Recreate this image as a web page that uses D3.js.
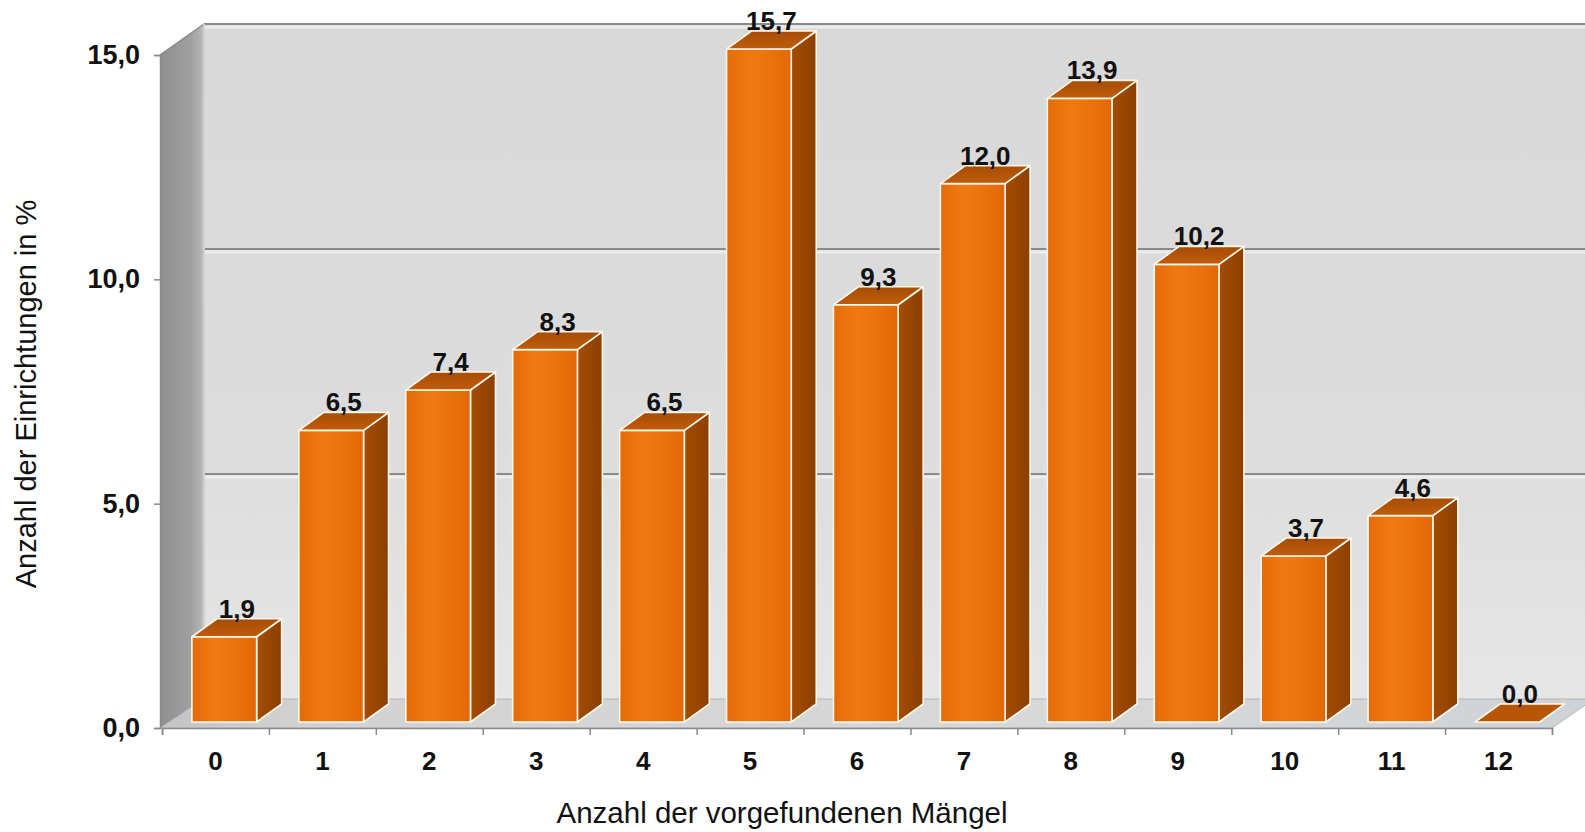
<!DOCTYPE html>
<html>
<head>
<meta charset="utf-8">
<script src="https://cdn.jsdelivr.net/npm/d3@7"></script>
<style>
  html, body { margin: 0; padding: 0; background: #ffffff; }
  svg { display: block; font-family: "Liberation Sans", Arial, sans-serif; }
</style>
</head>
<body>
<svg id="chart" width="1585" height="832"></svg>
<script>
// Number of defects found (categories) and share of facilities in %
const categories = ["0", "1", "2", "3", "4", "5", "6", "7", "8", "9", "10", "11", "12"];
const shares = [1.9, 6.5, 7.4, 8.3, 6.5, 15.7, 9.3, 12.0, 13.9, 10.2, 3.7, 4.6, 0.0];
const yTicks = [0, 5, 10, 15];
const yTitle = "Anzahl der Einrichtungen in %";
const xTitle = "Anzahl der vorgefundenen Mängel";

const svg = d3.select("#chart");
const fmt = d => d3.format(".1f")(d).replace(".", ",");

// 3D frame: front plane, back wall offset
const wallDx = 42, wallDy = -29;
const barDx = 25, barDy = -18;

const x = d3.scaleBand().domain(categories).range([162, 1552]).paddingInner(0).paddingOuter(0);
const yFront = d3.scaleLinear().domain([0, 15]).range([728, 55]);
const yBack = d3.scaleLinear().domain([0, 15]).range([728 + wallDy, 55 + wallDy - 2]);
// bars stand slightly behind the front plane and are clipped at the axis maximum
const yBar = d3.scaleLinear().domain([0, 15]).range([722, 49]).clamp(true);

const defs = svg.append("defs");
function linGrad(id, x1, y1, x2, y2, stops) {
  const g = defs.append("linearGradient").attr("id", id)
    .attr("x1", x1).attr("y1", y1).attr("x2", x2).attr("y2", y2);
  stops.forEach(s => g.append("stop").attr("offset", s[0]).attr("stop-color", s[1]));
}
linGrad("gBack", 0, 0, 0, 1, [[0, "#d9d9d9"], [0.6, "#dcdcdc"], [1, "#e6e6e6"]]);
linGrad("gLeft", 0, 0, 1, 0, [[0, "#8e8e8e"], [0.7, "#a0a0a0"], [0.92, "#b2b2b2"], [1, "#c6c6c6"]]);
linGrad("gFloor", 0, 0, 1, 0, [[0, "#c4c4c4"], [0.1, "#d2d2d2"], [0.6, "#d8d8d8"], [1, "#cfd2d6"]]);
linGrad("gFront", 0, 0, 1, 0, [[0, "#e56a05"], [0.35, "#f07a12"], [0.7, "#ea720c"], [1, "#e26805"]]);
linGrad("gSide", 0, 0, 1, 0, [[0, "#a44c02"], [1, "#8c3f00"]]);
linGrad("gTop", 0, 0, 0, 1, [[0, "#a64d05"], [1, "#c05c0a"]]);

const x0 = x.range()[0], x1 = x.range()[1];
const yTop = yFront(15), yZero = yFront(0);

// back wall
svg.append("rect")
  .attr("x", x0 + wallDx).attr("y", yBack(15))
  .attr("width", 1585 - (x0 + wallDx)).attr("height", yBack(0) - yBack(15))
  .attr("fill", "url(#gBack)");

// left side wall
svg.append("path")
  .attr("d", `M${x0 - 2},${yTop} L${x0 + wallDx},${yBack(15)} L${x0 + wallDx},${yBack(0)} L${x0 - 2},${yZero} Z`)
  .attr("fill", "url(#gLeft)");

// floor
svg.append("path")
  .attr("d", `M${x0 - 2},${yZero} L${x0 + wallDx},${yBack(0)} L${x1 + wallDx},${yBack(0)} L${x1},${yZero} Z`)
  .attr("fill", "url(#gFloor)")
  .attr("stroke", "#b0b4b8").attr("stroke-width", 1);

// gridlines on the back wall
yTicks.filter(t => t > 0).forEach(t => {
  const yy = yBack(t);
  svg.append("line").attr("x1", x0 + wallDx).attr("x2", 1585)
    .attr("y1", yy + 3).attr("y2", yy + 3)
    .attr("stroke", "#ececec").attr("stroke-width", 3);
  svg.append("line").attr("x1", x0 + wallDx).attr("x2", 1585)
    .attr("y1", yy).attr("y2", yy)
    .attr("stroke", "#8a8a8a").attr("stroke-width", 2);
});
// top edge of the left wall
svg.append("line").attr("x1", x0 - 2).attr("y1", yTop).attr("x2", x0 + wallDx).attr("y2", yBack(15))
  .attr("stroke", "#8a8a8a").attr("stroke-width", 1.5);
// back edge where left wall meets back wall
svg.append("line").attr("x1", x0 + wallDx).attr("x2", x0 + wallDx)
  .attr("y1", yBack(15)).attr("y2", yBack(0))
  .attr("stroke", "#cfcfcf").attr("stroke-width", 2);

// bars
const bw = x.bandwidth();
const bars = svg.append("g").selectAll("g").data(categories.map((c, i) => ({ c, v: shares[i] })))
  .join("g");

bars.each(function (d) {
  const g = d3.select(this);
  const left = x(d.c) + bw * 0.28;
  const right = left + bw * 0.605;
  const top = yBar(d.v), bot = yBar(0);
  const stroke = "#fff6ea", sw = 1.6;
  if (bot - top > 0.5) {
    // side face
    g.append("path")
      .attr("d", `M${right},${top} L${right + barDx},${top + barDy} L${right + barDx},${bot + barDy} L${right},${bot} Z`)
      .attr("fill", "url(#gSide)").attr("stroke", stroke).attr("stroke-width", sw).attr("stroke-linejoin", "round");
    // front face
    g.append("rect")
      .attr("x", left).attr("y", top).attr("width", right - left).attr("height", bot - top)
      .attr("fill", "url(#gFront)").attr("stroke", stroke).attr("stroke-width", sw);
  }
  // top face
  g.append("path")
    .attr("d", `M${left},${top} L${left + barDx},${top + barDy} L${right + barDx},${top + barDy} L${right},${top} Z`)
    .attr("fill", bot - top > 0.5 ? "url(#gTop)" : "#b85606")
    .attr("stroke", stroke).attr("stroke-width", sw).attr("stroke-linejoin", "round");
  // value label
  g.append("text")
    .attr("x", (left + right) / 2 + barDx / 2)
    .attr("y", top - 19)
    .attr("text-anchor", "middle")
    .attr("font-size", 26).attr("font-weight", "bold").attr("fill", "#111")
    .text(fmt(d.v));
});

// y axis on the front plane
const yAxis = svg.append("g").attr("transform", `translate(${x0 - 2},0)`)
  .call(d3.axisLeft(yFront).tickValues(yTicks).tickSize(6).tickPadding(14).tickFormat(fmt));
yAxis.select(".domain").attr("stroke", "#8a8a8a").attr("stroke-width", 1.5);
yAxis.selectAll(".tick line").attr("stroke", "#8a8a8a").attr("stroke-width", 1.5);
yAxis.selectAll(".tick text").attr("font-size", 27).attr("font-weight", "bold").attr("fill", "#111")
  .attr("font-family", "'Liberation Sans', Arial, sans-serif");

// x axis: tick marks at category boundaries
const xEdge = d3.scaleLinear().domain([0, categories.length]).range(x.range());
const xTickAxis = svg.append("g").attr("transform", `translate(0,${yZero})`)
  .call(d3.axisBottom(xEdge).tickValues(d3.range(categories.length + 1)).tickSize(7).tickFormat(""));
xTickAxis.select(".domain").attr("stroke", "#8a8a8a").attr("stroke-width", 1.5);
xTickAxis.selectAll(".tick line").attr("stroke", "#8a8a8a").attr("stroke-width", 1.5);

// x axis: category labels centred in each band
const xLabelAxis = svg.append("g").attr("transform", `translate(0,${yZero})`)
  .call(d3.axisBottom(x).tickSize(0).tickPadding(24));
xLabelAxis.select(".domain").remove();
xLabelAxis.selectAll(".tick text").attr("font-size", 26).attr("font-weight", "bold").attr("fill", "#111")
  .attr("font-family", "'Liberation Sans', Arial, sans-serif");

// axis titles
svg.append("text")
  .attr("transform", "translate(36,394) rotate(-90)")
  .attr("text-anchor", "middle")
  .attr("font-size", 29).attr("fill", "#111")
  .text(yTitle);
svg.append("text")
  .attr("x", 782).attr("y", 823)
  .attr("text-anchor", "middle")
  .attr("font-size", 29.5).attr("fill", "#111")
  .text(xTitle);
</script>
</body>
</html>
